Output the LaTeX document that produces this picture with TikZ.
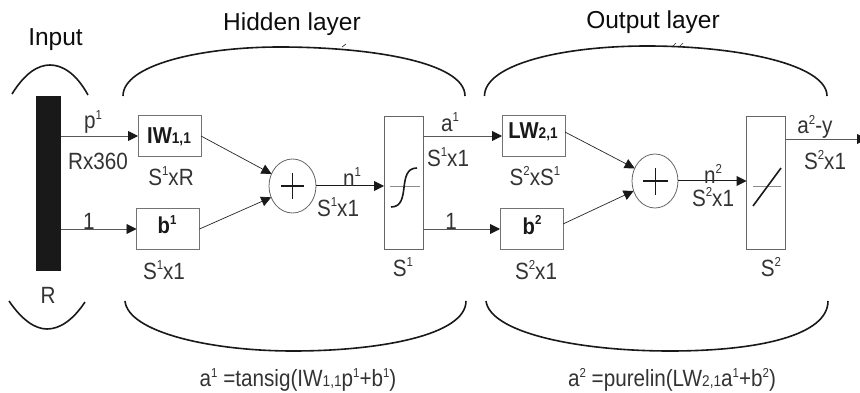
\documentclass[tikz,border=0pt]{standalone}
\usepackage{fontspec}
\setmainfont{Liberation Sans}
\newfontfamily\labf[FakeStretch=0.88]{Liberation Sans}
\usetikzlibrary{arrows.meta,shapes.geometric}
\newcommand{\up}[1]{\raisebox{.4em}{\fontsize{13}{13}\selectfont #1}}
\newcommand{\dn}[1]{{\fontsize{15.5}{15.5}\selectfont #1}}
\tikzset{
  x=1pt,y=-1pt,
  blockbox/.style={draw=black!55,line width=1pt,inner sep=0pt,outer sep=0pt,minimum width=63pt,minimum height=41pt,fill=white},
  tfbox/.style={draw=black!60,line width=1pt,inner sep=0pt,outer sep=0pt,minimum width=39pt,minimum height=132pt},
  sumnode/.style={draw=black!60,ellipse,line width=.8pt,inner sep=0pt,outer sep=0pt,minimum width=47pt,minimum height=54pt,fill=white},
  conn/.style={draw=black!65,line width=.9pt,-{Triangle[length=10pt,width=10pt,color=black!90]}},
  brace/.style={line width=1.6pt,black!90},
  lab/.style={inner sep=0pt,font=\labf\fontsize{23.5}{23.5}\selectfont,text=black!80},
  title/.style={inner sep=0pt,font=\fontsize{24.5}{24.5}\selectfont,text=black!95},
  boxlab/.style={inner sep=0pt,font=\labf\fontsize{23}{23}\selectfont\bfseries,text=black!90},
}
\begin{document}
\begin{tikzpicture}
\useasboundingbox (0,0) rectangle (860,393);
\fill[white] (0,0) rectangle (860,393);
% input bar
\node[fill=black!90,inner sep=0pt,outer sep=0pt,minimum width=25pt,minimum height=175pt] (bar) at (48.5,183.5) {};
% blocks
\node[blockbox] (iw) at (169.5,136) {};
\node[boxlab] (iwt) at (169,137) {IW\dn{1,1}};
\node[blockbox] (b1) at (168,229) {};
\node[boxlab] (b1t) at (167,225) {b\up{1}};
\node[sumnode] (s1) at (292.5,186) {};
\node[tfbox] (tf1) at (403.5,183) {};
\node[blockbox] (lw) at (533.5,136) {};
\node[boxlab] (lwt) at (533,132) {LW\dn{2,1}};
\node[blockbox] (b2) at (531.5,229) {};
\node[boxlab] (b2t) at (532,225) {b\up{2}};
\node[sumnode,minimum width=46pt] (s2) at (655,181) {};
\node[tfbox] (tf2) at (766,183) {};
\coordinate (out) at (867,139);
% connectors
\draw[conn] (bar.east |- iw.west) -- (iw.west);
\draw[conn] (bar.east |- b1.west) -- (b1.west);
\draw[conn,black!85,line width=.7pt] (iw.east) -- (s1.150);
\draw[conn,black!85,line width=.7pt] (b1.east) -- (s1.208);
\draw[conn,black!90,line width=1pt] (s1.east) -- (s1.east -| tf1.west);
\draw[conn] (tf1.east |- lw.west) -- (lw.west);
\draw[conn] (tf1.east |- b2.west) -- (b2.west);
\draw[conn,black!85,line width=.7pt] (lw.east) ++(0,-4) -- (s2.148);
\draw[conn,black!85,line width=.7pt] (b2.east) ++(0,-5) -- (s2.205);
\draw[conn,black!90,line width=1pt] (s2.east) -- (s2.east -| tf2.west);
\draw[conn] (tf2.east |- out) -- (out);
% plus signs
\draw[line width=1.5pt,black!90] (281,186) -- (304,186) (292.5,173) -- (292.5,199);
\draw[line width=1.5pt,black!90] (643,181) -- (668,181) (655.5,168) -- (655.5,195);
% transfer glyphs
\draw[black!45,line width=1pt] (390,187) -- (420,187);
\draw[line width=1.6pt,black!90] (391,207) .. controls (412,207) and (396,168) .. (417,168);
\draw[black!45,line width=1pt] (753,187) -- (781,187);
\draw[line width=1.6pt,black!90] (753,206) -- (781,168);
% arcs
\draw[brace] (12,94) .. controls (25,73) and (38,65) .. (50,65) .. controls (62,65) and (76,73) .. (88,95);
\draw[brace] (9,301) .. controls (22,320) and (35,329) .. (47,329) .. controls (60,329) and (73,320) .. (85,302);
\draw[brace] (123,96) .. controls (123,65) and (200,47) .. (280,47) .. controls (370,47) and (465,62) .. (465,96);
\draw[brace] (125,301) .. controls (128,332) and (210,351) .. (293,351) .. controls (380,351) and (466,335) .. (466,301);
\draw[brace] (484.5,96) .. controls (484.5,65) and (560,46) .. (647,46) .. controls (740,46) and (827,65) .. (827,96);
\draw[brace] (486,301) .. controls (490,332) and (575,351) .. (670,351) .. controls (760,351) and (828,335) .. (828,301);
\draw[black!80,line width=.7pt] (342,47) -- (346,44) (673,46) -- (676,43) (680,46) -- (683,43);
% texts
\node[title] (tinput) at (55.5,40) {Input};
\node[title] (thid) at (292,24) {Hidden layer};
\node[title] (tout) at (653,22) {Output layer};
\node[lab] (lp) at (93,122) {p\up{1}};
\node[lab] (lrx) at (98,161) {Rx360};
\node[lab] (lsr) at (171,176) {S\up{1}xR};
\node[lab] (lone) at (89,221) {1};
\node[lab] (ls1) at (164,270) {S\up{1}x1};
\node[lab] (lr) at (48,295) {R};
\node[lab] (ln1) at (352,177) {n\up{1}};
\node[lab] (ls1b) at (338,207) {S\up{1}x1};
\node[lab] (la1) at (450,122) {a\up{1}};
\node[lab] (ls1c) at (448,157) {S\up{1}x1};
\node[lab] (lone2) at (451,221) {1};
\node[lab] (lss) at (535,176) {S\up{2}xS\up{1}};
\node[lab] (ls2) at (536,270) {S\up{2}x1};
\node[lab] (ltf1) at (403,267) {S\up{1}};
\node[lab] (ln2) at (713,174) {n\up{2}};
\node[lab] (ls2b) at (713,197) {S\up{2}x1};
\node[lab] (la2) at (815,127) {a\up{2}-y};
\node[lab] (ls2c) at (825,160) {S\up{2}x1};
\node[lab] (ltf2) at (771,267) {S\up{2}};
\node[lab] (f1) at (298,380) {a\up{1} =tansig(IW\dn{1,1}p\up{1}+b\up{1})};
\node[lab] (f2) at (672,380) {a\up{2} =purelin(LW\dn{2,1}a\up{1}+b\up{2})};
\end{tikzpicture}
\end{document}
